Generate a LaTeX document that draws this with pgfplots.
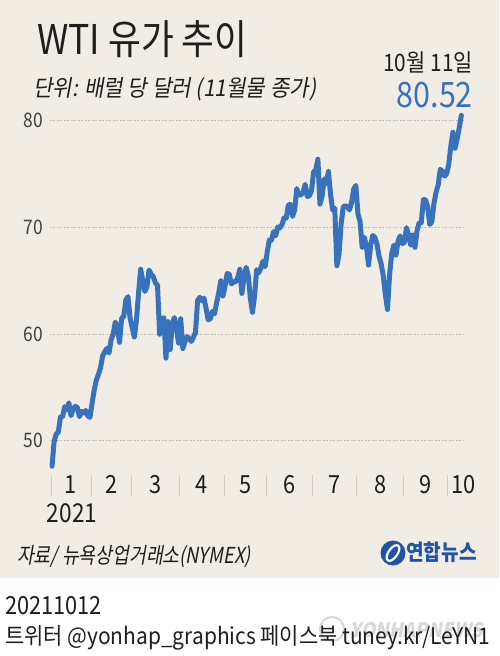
\documentclass[border=0pt]{standalone}
\usepackage{pgfplots}
\pgfplotsset{compat=1.18}
\usepackage{pgfplotstable}
\usepackage{fontspec}
\setmainfont{Noto Sans CJK KR}
\newfontfamily\nar[FakeStretch=0.87]{Noto Sans CJK KR}
\newfontfamily\narw[FakeStretch=0.91]{Noto Sans CJK KR}
\newfontfamily\narsl[FakeStretch=0.92,FakeSlant=0.18]{Noto Sans CJK KR}
\newfontfamily\narslc[FakeStretch=0.83,FakeSlant=0.18]{Noto Sans CJK KR}
\definecolor{bg}{RGB}{242,237,228}
\definecolor{wti}{RGB}{56,114,189}
\definecolor{txt}{RGB}{30,30,30}
\definecolor{gridc}{RGB}{196,190,181}
\definecolor{sepc}{RGB}{208,202,194}
\definecolor{logoblue}{RGB}{32,82,165}

\pgfplotstableread{
x y
0 47.62
1 49.93
2 50.63
3 50.83
4 52.24
5 52.25
6 53.21
7 52.91
8 53.57
9 52.36
10 52.98
11 53.24
12 53.13
13 52.27
14 52.77
15 52.61
16 52.85
17 52.34
18 52.20
19 53.55
20 54.76
21 55.69
22 56.23
23 56.85
24 57.97
25 58.36
26 58.68
27 58.24
28 59.47
29 60.05
30 61.14
31 60.52
32 59.24
33 61.49
34 61.67
35 63.22
36 63.53
37 61.50
38 60.64
39 59.75
40 61.28
41 63.83
42 66.09
43 65.05
44 64.01
45 64.44
46 66.02
47 65.61
48 65.39
49 64.80
50 64.60
51 60.00
52 61.42
53 61.55
54 57.76
55 61.18
56 58.56
57 60.97
58 61.56
59 60.55
60 59.16
61 61.45
62 58.65
63 59.33
64 59.77
65 59.60
66 59.32
67 59.70
68 60.18
69 63.15
70 63.46
71 63.13
72 63.38
73 62.44
74 61.35
75 61.43
76 62.14
77 61.91
78 62.94
79 63.86
80 65.01
81 63.58
82 64.49
83 65.69
84 65.63
85 64.71
86 64.90
87 64.92
88 65.28
89 66.08
90 63.82
91 65.37
92 66.27
93 65.49
94 63.36
95 62.05
96 63.58
97 66.05
98 65.76
99 66.21
100 66.85
101 66.32
102 67.72
103 68.83
104 68.81
105 69.62
106 69.23
107 70.05
108 69.96
109 70.29
110 70.91
111 70.88
112 72.12
113 72.15
114 71.04
115 71.64
116 73.66
117 73.06
118 73.08
119 73.30
120 74.05
121 72.91
122 72.98
123 73.47
124 75.23
125 75.40
126 76.40
127 72.20
128 72.94
129 74.56
130 74.10
131 75.25
132 73.13
133 71.65
134 71.81
135 66.42
136 67.42
137 70.30
138 71.91
139 72.07
140 71.91
141 71.65
142 72.39
143 73.62
144 73.95
145 71.26
146 70.56
147 68.15
148 69.09
149 68.28
150 66.48
151 68.29
152 69.25
153 69.09
154 68.44
155 67.29
156 66.59
157 65.46
158 63.69
159 62.32
160 65.64
161 67.54
162 68.36
163 67.42
164 68.74
165 69.21
166 68.50
167 68.59
168 69.99
169 69.29
170 68.35
171 69.30
172 68.14
173 69.72
174 70.45
175 70.46
176 72.61
177 72.61
178 71.97
179 70.29
180 70.56
181 72.23
182 73.30
183 73.98
184 75.45
185 75.29
186 74.83
187 75.03
188 75.88
189 77.62
190 78.93
191 77.43
192 78.30
193 79.35
194 80.52
}\wtidata

\begin{document}
\begin{tikzpicture}[x=1pt,y=1pt]
\fill[white] (0,0) rectangle (499,656);
\fill[bg] (0,78) rectangle (499,656);
\begin{axis}[
  at={(49.9pt,181pt)}, anchor=south west,
  scale only axis, width=414.2pt, height=364.8pt,
  xmin=-1, xmax=195.3, ymin=46.8, ymax=81,
  clip=false,
  axis line style={draw=none},
  /pgf/number format/assume math mode=true,
  ytick={50,60,70,80},
  ymajorgrids,
  grid style={gridc, line width=0.8pt, dash pattern=on 2pt off 1.5pt},
  major tick length=0pt,
  xtick={9,28,49,71,91.5,112.5,134,155.5,177,195},
  xticklabels={1,2,3,4,5,6,7,8,9,10},
  minor xtick={-0.5,18.5,37.5,60.5,81.5,101.5,123.5,144.5,166.5,187.5},
  minor tick length=21pt,
  tick align=outside,
  minor tick style={draw=sepc, line width=0.9pt},
  xtick pos=bottom, ytick pos=left,
  yticklabel style={font=\nar\fontsize{20}{20}\selectfont, text=txt!85, xshift=-3.5pt},
  xticklabel style={font=\nar\fontsize{25}{25}\selectfont, text=txt, yshift=3pt},
]
\addplot[wti, line width=5pt, line join=round, line cap=round] table[x=x,y=y]{\wtidata};
\end{axis}
% titles
\node[anchor=base west, inner sep=0, text=txt, font=\nar\fontsize{41}{41}\selectfont] at (37,601) {WTI 유가 추이};
\node[anchor=base west, inner sep=0, text=txt, font=\narsl\fontsize{23}{23}\selectfont] at (33,559) {단위: 배럴 당 달러 (11월물 종가)};
\node[anchor=base east, inner sep=0, text=txt, font=\nar\fontsize{24}{24}\selectfont] at (473,584) {10월 11일};
\node[anchor=base east, inner sep=0, text=wti, font=\nar\fontsize{35}{35}\selectfont] at (473,548) {80.52};
% year
\node[anchor=base, inner sep=0, text=txt, font=\nar\fontsize{26}{26}\selectfont] at (72,133) {2021};
% source
\node[anchor=base west, inner sep=0, text=txt, font=\narslc\fontsize{22}{22}\selectfont] at (17,92) {자료/ 뉴욕상업거래소(NYMEX)};
% logo
\fill[logoblue] (393,103) circle (12.5);
\draw[white, line width=2.2pt, rotate around={-35:(393,103)}] (393,103) ellipse (4.5 and 9);
\node[anchor=base west, inner sep=0, text=logoblue, font=\nar\bfseries\fontsize{22}{22}\selectfont] at (406,95) {연합뉴스};
% footer
\node[anchor=base west, inner sep=0, text=txt, font=\nar\fontsize{25}{25}\selectfont] at (5,41) {20211012};
\node[anchor=base west, inner sep=0, text=gray, opacity=0.3, font=\narsl\bfseries\fontsize{20}{20}\selectfont] at (350,18) {YONHAPNEWS};
\draw[gray, opacity=0.3, line width=2pt] (332,27) circle (12);
\node[anchor=base west, inner sep=0, text=txt, font=\narw\fontsize{23}{23}\selectfont] at (5,11) {트위터 @yonhap\_graphics 페이스북 tuney.kr/LeYN1};
\end{tikzpicture}
\end{document}
